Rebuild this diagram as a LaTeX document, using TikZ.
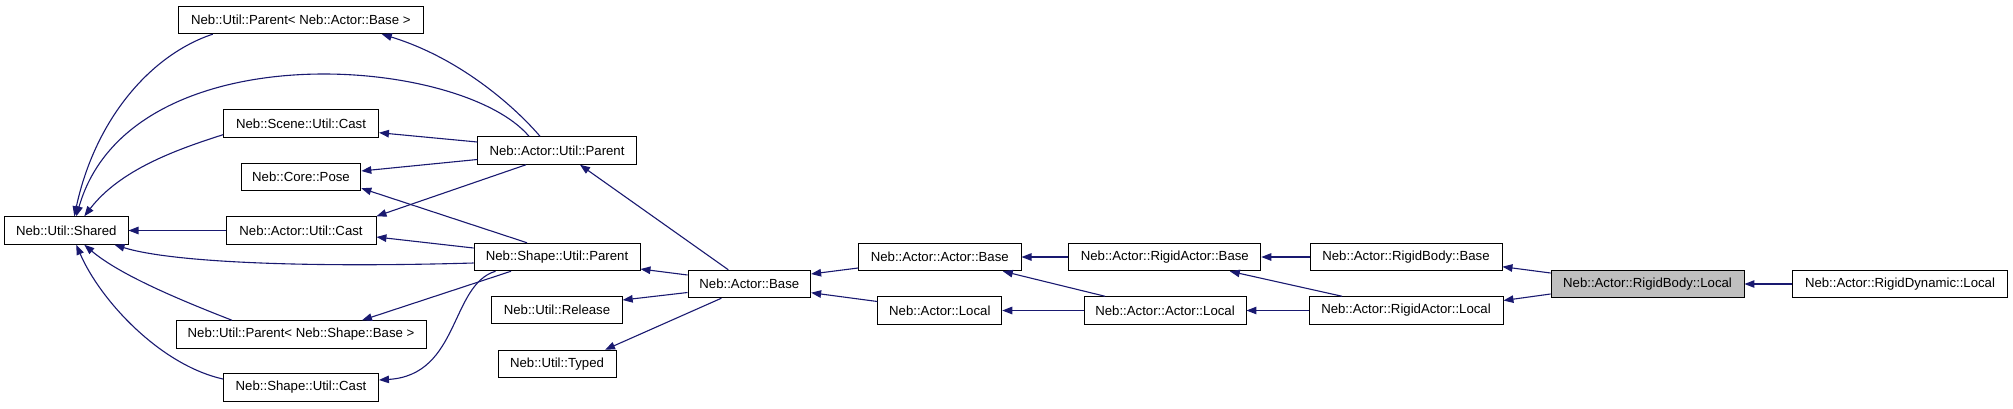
\documentclass[tikz,border=0pt]{standalone}
\usepackage{fontspec}
\setmainfont{Liberation Sans}
\usetikzlibrary{arrows.meta}
\definecolor{edgeblue}{HTML}{191970}
\definecolor{hilite}{HTML}{BFBFBF}
\tikzset{
  cls/.style={draw=black, line width=0.9pt, rectangle, minimum height=27.6pt, inner sep=0pt,
    fill=white, font=\fontsize{13.2}{15}\selectfont},
  cur/.style={cls, fill=hilite},
  inh/.style={draw=edgeblue, line width=1.1pt, -{Triangle[length=10pt,width=7.5pt]}}
}
\begin{document}
\begin{tikzpicture}[x=1pt,y=-1pt]
\useasboundingbox (0,0) rectangle (2013,408);
% nodes
\node[cls, minimum width=244.4pt] (PAB) at (300.8,19.9) {Neb::Util::Parent< Neb::Actor::Base >};
\node[cls, minimum width=155pt] (SUC) at (301,123.7) {Neb::Scene::Util::Cast};
\node[cls, minimum width=158.5pt] (AUP) at (557,150.5) {Neb::Actor::Util::Parent};
\node[cls, minimum width=119.7pt] (CP) at (301,177) {Neb::Core::Pose};
\node[cls, minimum width=123.5pt] (US) at (66.3,230.5) {Neb::Util::Shared};
\node[cls, minimum width=150pt] (AUC) at (301,230.5) {Neb::Actor::Util::Cast};
\node[cls, minimum width=166pt] (SUP) at (557,257) {Neb::Shape::Util::Parent};
\node[cls, minimum width=130.5pt] (UR) at (557,310) {Neb::Util::Release};
\node[cls, minimum width=250pt] (PSB) at (301,334.5) {Neb::Util::Parent< Neb::Shape::Base >};
\node[cls, minimum width=118pt] (UT) at (557,364) {Neb::Util::Typed};
\node[cls, minimum width=155pt] (ShUC) at (301,387.5) {Neb::Shape::Util::Cast};
\node[cls, minimum width=122.7pt] (AB) at (749.3,284) {Neb::Actor::Base};
\node[cls, minimum width=162.5pt] (AAB) at (939.8,257) {Neb::Actor::Actor::Base};
\node[cls, minimum width=124pt] (AL) at (939.8,310.5) {Neb::Actor::Local};
\node[cls, minimum width=192pt] (RAB) at (1164.8,257) {Neb::Actor::RigidActor::Base};
\node[cls, minimum width=162pt] (AAL) at (1165,310.5) {Neb::Actor::Actor::Local};
\node[cls, minimum width=192pt] (RBB) at (1406,257) {Neb::Actor::RigidBody::Base};
\node[cls, minimum width=194pt] (RAL) at (1406,310.5) {Neb::Actor::RigidActor::Local};
\node[cur, minimum width=193pt] (RBL) at (1647.5,284) {Neb::Actor::RigidBody::Local};
\node[cls, minimum width=215.7pt] (RDL) at (1900,284) {Neb::Actor::RigidDynamic::Local};
% edges
\draw[inh] ([xshift=-17pt]AUP.north) .. controls (515,107) and (460,58) .. ([xshift=81pt]PAB.south);
\draw[inh] ([xshift=-28pt]AUP.north) .. controls (460,55) and (130,30) .. ([xshift=10pt]US.north);
\draw[inh] ([xshift=-88pt]PAB.south) .. controls (150,55) and (95,120) .. ([xshift=8pt]US.north);
\draw[inh] ([yshift=-11pt]SUC.west) .. controls (175,150) and (120,170) .. ([xshift=18pt]US.north);
\draw[inh] ([yshift=8.5pt]AUP.west) -- ([yshift=-9pt]SUC.east);
\draw[inh] ([yshift=-9pt]AUP.west) -- ([yshift=6pt]CP.east);
\draw[inh] ([xshift=-31pt]AUP.south) -- (AUC.north east);
\draw[inh] ([xshift=-30pt]SUP.north) -- ([yshift=3pt]CP.south east);
\draw[inh] ([yshift=9pt]SUP.west) -- ([yshift=-6.5pt]AUC.east);
\draw[inh] (AUC.west) -- (US.east);
\draw[inh] ([yshift=-6pt]SUP.west) .. controls (300,268) and (170,262) .. ([xshift=-14pt]US.south east);
\draw[inh] ([xshift=-46pt]SUP.south) -- ([xshift=61pt]PSB.north);
\draw[inh] ([xshift=-61.5pt]SUP.south) .. controls (450,285) and (460,375) .. ([yshift=7.5pt]ShUC.east);
\draw[inh] ([xshift=-69pt]PSB.north) .. controls (180,300) and (120,275) .. ([xshift=18pt]US.south);
\draw[inh] ([yshift=8.5pt]ShUC.west) .. controls (160,365) and (100,300) .. ([xshift=10pt]US.south);
\draw[inh] ([xshift=-21pt]AB.north) -- ([xshift=23pt]AUP.south);
\draw[inh] ([yshift=9pt]AB.west) -- ([yshift=-12pt]SUP.east);
\draw[inh] ([yshift=-8.5pt]AB.west) -- ([yshift=10pt]UR.east);
\draw[inh] ([xshift=-28pt]AB.south) -- ([xshift=48pt]UT.north);
\draw[inh] ([yshift=-11pt]AAB.west) -- ([yshift=10pt]AB.east);
\draw[inh] ([yshift=9pt]AL.west) -- ([yshift=-8.7pt]AB.east);
\draw[inh] (RAB.west) -- (AAB.east);
\draw[inh] ([xshift=-60pt]AAL.north) -- ([xshift=63pt]AAB.south);
\draw[inh] (AAL.west) -- (AL.east);
\draw[inh] (RBB.west) -- (RAB.east);
\draw[inh] ([xshift=-64pt]RAL.north) -- ([xshift=65pt]RAB.south);
\draw[inh] (RAL.west) -- (AAL.east);
\draw[inh] ([yshift=11pt]RBL.west) -- ([yshift=-9.7pt]RBB.east);
\draw[inh] ([yshift=-10pt]RBL.west) -- ([yshift=10pt]RAL.east);
\draw[inh] (RDL.west) -- (RBL.east);
\end{tikzpicture}
\end{document}
